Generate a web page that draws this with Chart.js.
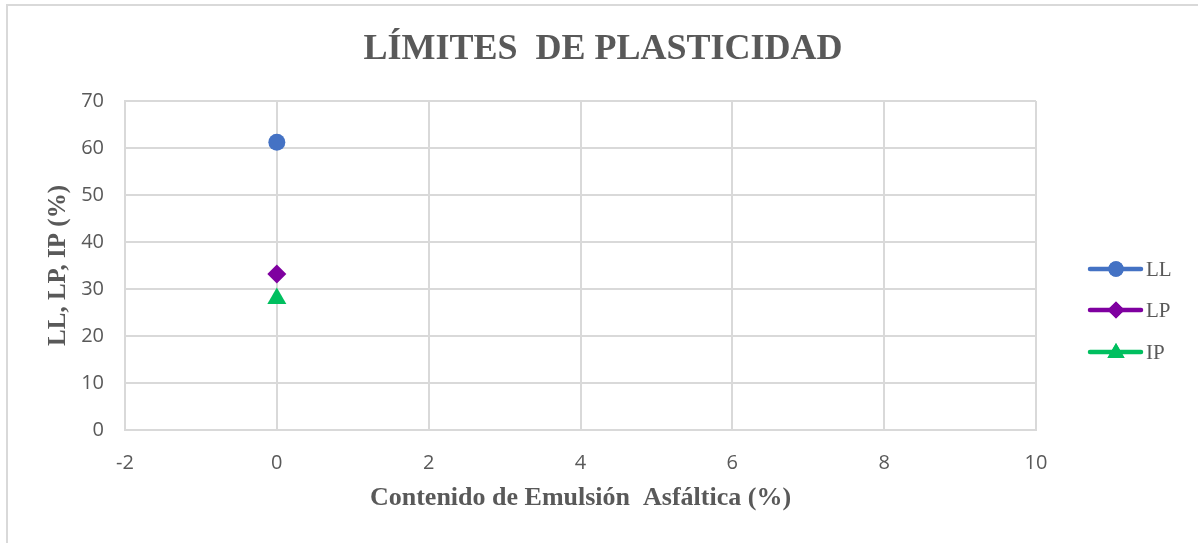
<!DOCTYPE html>
<html>
<head>
<meta charset="utf-8">
<script src="https://cdn.jsdelivr.net/npm/chart.js@4.4.1/dist/chart.umd.min.js"></script>
<style>
  body { margin: 0; background: #fff; }
  .wrap { position: relative; width: 1198px; height: 543px; }
  .frame { position: absolute; left: 6px; top: 4px; right: -10px; bottom: -10px;
           border-left: 2px solid #d9d9d9; border-top: 2px solid #d9d9d9; }
  canvas { position: absolute; left: 0; top: 0; }
</style>
</head>
<body>
<div class="wrap">
  <div class="frame"></div>
  <canvas id="limites" width="1198" height="543"></canvas>
</div>
<script>
// data
var seriesNames = ['LL', 'LP', 'IP'];
var emulsion = [0];          // Contenido de Emulsión Asfáltica (%)
var llValues = [61.2];
var lpValues = [33.2];
var ipValues = [28];
var xTicks = [-2, 0, 2, 4, 6, 8, 10];
var yTicks = [0, 10, 20, 30, 40, 50, 60, 70];

var colors = ['#4472C4', '#7F00A0', '#00BF5F'];
var markers = ['circle', 'rectRot', 'triangle'];
var radii = [8.5, 9.5, 11];

function points(vals){
    return vals.map(function(v, i){ return {x: emulsion[i], y: v}; });
}

var grey = '#595959';
var gridColor = '#d9d9d9';

// title is centred on the whole picture, not on the plot, so draw it here
var bigTitle = {
    id: 'bigTitle',
    afterDraw: function(chart){
        var ctx = chart.ctx;
        ctx.save();
        ctx.fillStyle = grey;
        ctx.font = 'bold 36px "Liberation Serif"';
        ctx.textAlign = 'center';
        ctx.textBaseline = 'middle';
        ctx.fillText('LÍMITES  DE PLASTICIDAD', 603, 50);
        ctx.restore();
    }
};

// legend drawn by hand: line with marker in the middle, like the excel one
var lineLegend = {
    id: 'lineLegend',
    afterDraw: function(chart){
        var ctx = chart.ctx;
        var rows = [269, 310, 352];
        ctx.save();
        for (var i = 0; i < seriesNames.length; i++) {
            var y = rows[i];
            ctx.strokeStyle = colors[i];
            ctx.fillStyle = colors[i];
            ctx.lineWidth = 4.5;
            ctx.lineCap = 'round';
            ctx.beginPath();
            ctx.moveTo(1090, y);
            ctx.lineTo(1141, y);
            ctx.stroke();
            Chart.helpers.drawPoint(ctx, {pointStyle: markers[i], radius: radii[i] * 0.9, rotation: 0, borderWidth: 0},
                1116, markers[i] == 'triangle' ? y + 1 : y);
            ctx.fill();
            ctx.fillStyle = grey;
            ctx.font = '21px "Liberation Serif"';
            ctx.textBaseline = 'middle';
            ctx.textAlign = 'left';
            ctx.fillText(seriesNames[i], 1146, y + 1);
        }
        ctx.restore();
    }
};

var sets = [llValues, lpValues, ipValues].map(function(vals, i){
    return {
        label: seriesNames[i],
        data: points(vals),
        pointStyle: markers[i],
        pointRadius: radii[i],
        pointHoverRadius: radii[i],
        pointBackgroundColor: colors[i],
        pointBorderColor: colors[i],
        pointBorderWidth: 0,
        showLine: false
    };
});

var ctx = document.getElementById('limites').getContext('2d');
var myChart = new Chart(ctx, {
    type: 'scatter',
    data: { datasets: sets },
    plugins: [bigTitle, lineLegend],
    options: {
        responsive: false,
        animation: false,
        layout: { padding: { left: 0, right: 162, top: 101, bottom: 0 } },
        plugins: {
            legend: { display: false },
            tooltip: { enabled: false },
            title: { display: false }
        },
        scales: {
            x: {
                type: 'linear',
                min: xTicks[0],
                max: xTicks[xTicks.length - 1],
                afterBuildTicks: function(s){ s.ticks = xTicks.map(function(v){ return {value: v}; }); },
                afterFit: function(s){ s.height = 113; },
                grid: { color: gridColor, lineWidth: 2, drawTicks: false },
                border: { color: gridColor, width: 2 },
                ticks: { color: grey, padding: 21, font: { family: '"Open Sans"', size: 20 } },
                title: {
                    display: true,
                    text: 'Contenido de Emulsión  Asfáltica (%)',
                    color: grey,
                    font: { family: '"Liberation Serif"', size: 26, weight: 'bold', lineHeight: 1.2 },
                    padding: { top: 0, bottom: 29 }
                }
            },
            y: {
                min: yTicks[0],
                max: yTicks[yTicks.length - 1],
                afterBuildTicks: function(s){ s.ticks = yTicks.map(function(v){ return {value: v}; }); },
                afterFit: function(s){ s.width = 125; },
                grid: { color: gridColor, lineWidth: 2, drawTicks: false },
                border: { color: gridColor, width: 2 },
                ticks: { color: grey, padding: 21, font: { family: '"Open Sans"', size: 20 } },
                title: {
                    display: true,
                    text: 'LL, LP, IP (%)',
                    color: grey,
                    font: { family: '"Liberation Serif"', size: 25, weight: 'bold', lineHeight: 1.2 },
                    padding: { top: 44, bottom: 0 }
                }
            }
        }
    }
});
</script>
</body>
</html>
